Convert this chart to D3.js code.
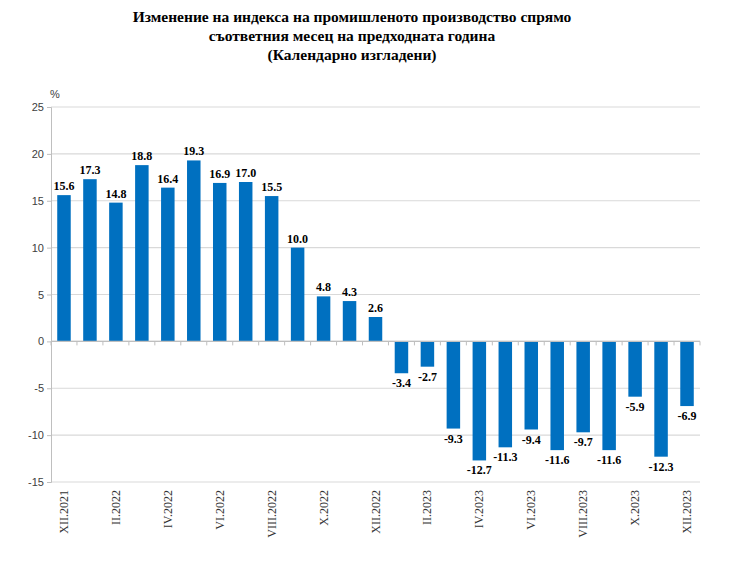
<!DOCTYPE html>
<html>
<head>
<meta charset="utf-8">
<script src="https://cdn.jsdelivr.net/npm/d3@7"></script>
<style>
  body { margin: 0; background: #fff; }
  svg { display: block; }
</style>
</head>
<body>
<script>
// data
var months = ["XII.2021","I.2022","II.2022","III.2022","IV.2022","V.2022","VI.2022","VII.2022","VIII.2022","IX.2022","X.2022","XI.2022","XII.2022",
              "I.2023","II.2023","III.2023","IV.2023","V.2023","VI.2023","VII.2023","VIII.2023","IX.2023","X.2023","XI.2023","XII.2023"];
var values = [15.6, 17.3, 14.8, 18.8, 16.4, 19.3, 16.9, 17.0, 15.5, 10.0, 4.8, 4.3, 2.6,
              -3.4, -2.7, -9.3, -12.7, -11.3, -9.4, -11.6, -9.7, -11.6, -5.9, -12.3, -6.9];
var tickLabels = ["XII.2021","II.2022","IV.2022","VI.2022","VIII.2022","X.2022","XII.2022",
                  "II.2023","IV.2023","VI.2023","VIII.2023","X.2023","XII.2023"];
var yTicks = [25, 20, 15, 10, 5, 0, -5, -10, -15];
var titleLines = ["Изменение на индекса на промишленото производство спрямо",
                  "съответния месец на предходната година",
                  "(Календарно изгладени)"];

var W = 740, H = 572;
var m = {left: 51, right: 40, top: 107, bottom: 90};

var svg = d3.select("body").append("svg").attr("width", W).attr("height", H);

var x = d3.scaleBand().domain(months).range([m.left, W - m.right]).paddingInner(0.48).paddingOuter(0.24);
var y = d3.scaleLinear().domain([-15, 25]).range([H - m.bottom, m.top]);

// plain hyphen for negatives, like the original
var fmt1 = function(d) { return d.toFixed(1); };
var fmt0 = function(d) { return String(d); };

// title
svg.append("g").selectAll("text").data(titleLines).enter().append("text")
  .attr("x", 352).attr("y", function(d, i) { return 22 + i * 19; })
  .attr("text-anchor", "middle")
  .style("font-family", "'Liberation Serif', 'Times New Roman', serif")
  .style("font-weight", "bold").style("font-size", "15.5px")
  .text(function(d) { return d; });

// grid
svg.append("g").selectAll("line").data(yTicks).enter().append("line")
  .attr("x1", m.left).attr("x2", W - m.right)
  .attr("y1", function(d) { return y(d); }).attr("y2", function(d) { return y(d); })
  .attr("stroke", "#d9d9d9").attr("stroke-width", 1.2);

// y axis
var yAxis = d3.axisLeft(y).tickValues(yTicks).tickSize(4).tickFormat(fmt0);
var gy = svg.append("g").attr("transform", "translate(" + m.left + ",0)").call(yAxis);
gy.select(".domain").attr("stroke", "#bfbfbf");
gy.selectAll(".tick line").attr("stroke", "#bfbfbf");
gy.selectAll(".tick text")
  .style("font-family", "'Liberation Sans', Arial, sans-serif").style("font-size", "11px").attr("fill", "#404040");

svg.append("text").attr("x", 50).attr("y", 98)
  .style("font-family", "'Liberation Sans', Arial, sans-serif").style("font-size", "11px").attr("fill", "#404040")
  .text("%");

// bars
svg.append("g").selectAll("rect").data(values).enter().append("rect")
  .attr("x", function(d, i) { return x(months[i]); })
  .attr("width", x.bandwidth())
  .attr("y", function(d) { return y(Math.max(0, d)); })
  .attr("height", function(d) { return Math.abs(y(d) - y(0)); })
  .attr("fill", "#0070c0");

// value labels
svg.append("g").selectAll("text").data(values).enter().append("text")
  .attr("x", function(d, i) { return x(months[i]) + x.bandwidth() / 2; })
  .attr("y", function(d) { return d >= 0 ? y(d) - 5 : y(d) + 14; })
  .attr("text-anchor", "middle")
  .style("font-family", "'Liberation Serif', 'Times New Roman', serif")
  .style("font-weight", "bold").style("font-size", "12px")
  .text(fmt1);

// zero axis with ticks between categories
var bounds = d3.range(months.length + 1).map(function(i) { return m.left + i * (W - m.right - m.left) / months.length; });
var gx = svg.append("g");
gx.append("line").attr("x1", m.left).attr("x2", W - m.right).attr("y1", y(0)).attr("y2", y(0))
  .attr("stroke", "#bfbfbf").attr("stroke-width", 1.2);
gx.selectAll("line.t").data(bounds).enter().append("line").attr("class", "t")
  .attr("x1", function(d) { return d; }).attr("x2", function(d) { return d; })
  .attr("y1", y(0)).attr("y2", y(0) + 4).attr("stroke", "#bfbfbf");

// x labels
svg.append("g").selectAll("text").data(tickLabels).enter().append("text")
  .attr("transform", function(d) {
    return "translate(" + (x(d) + x.bandwidth() / 2 + 4) + "," + (y(-15) + 8) + ") rotate(-90)";
  })
  .attr("text-anchor", "end")
  .style("font-family", "'Liberation Serif', 'Times New Roman', serif").style("font-size", "12px").attr("fill", "#333")
  .text(function(d) { return d; });
</script>
</body>
</html>
